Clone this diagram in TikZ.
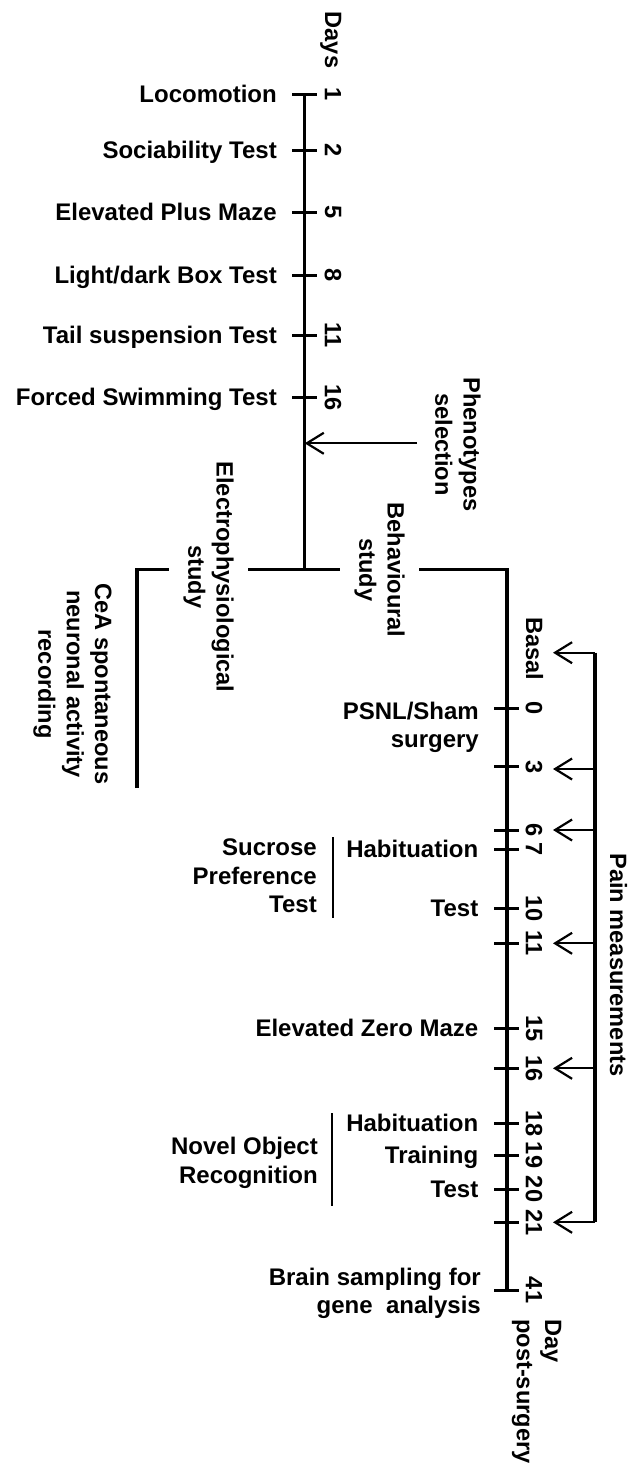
\documentclass[tikz,border=0pt]{standalone}
\usepackage{fontspec}
\setmainfont{Liberation Sans}
\usetikzlibrary{arrows.meta}
\begin{document}
\begin{tikzpicture}[x=1pt,y=-1pt,
  lbl/.style={font=\bfseries\fontsize{24}{28.3}\selectfont, inner sep=0pt},
  vlbl/.style={font=\bfseries\fontsize{23.6}{28.3}\selectfont, inner sep=0pt},
  hl/.style={lbl, anchor=base east},
  hlm/.style={lbl, anchor=north east, align=right},
  vl/.style={vlbl, rotate=-90},
  num/.style={vl, anchor=center},
  gapbox/.style={vl, align=center, fill=white, inner ysep=14.5pt},
  axis/.style={line width=3.2pt},
  tickl/.style={line width=3pt},
  brk/.style={line width=2.6pt},
  parrow/.style={line width=2.2pt, -{Straight Barb[length=17pt,width=21pt]}},
]
\fill[white] (0,0) rectangle (641,1478);
\useasboundingbox (0,0) rectangle (641,1478);

% ---------- top timeline ----------
\coordinate (top) at (304.7,94.3);
\coordinate (br) at (304.7,569.3);
\draw[axis] (top) -- (br);
\foreach \y in {94.3,150,212.3,275,335,397.3}
  \draw[tickl] (292.4,\y) -- (317,\y);

\node[vl, anchor=base] (days) at (325,40) {Days};
\node[num] (n1)  at (333,94.3)  {1};
\node[num] (n2)  at (333,150)   {2};
\node[num] (n5)  at (333,212.3) {5};
\node[num] (n8)  at (333,275)   {8};
\node[num] (n11) at (333,335)   {11};
\node[num] (n16) at (333,397.3) {16};

\node[hl] (loco) at (277,102.6) {Locomotion};
\node[hl] (soc)  at (277,158.3) {Sociability Test};
\node[hl] (epm)  at (277,220.6) {Elevated Plus Maze};
\node[hl] (ldb)  at (277,283.3) {Light/dark Box Test};
\node[hl] (tst)  at (277,343.3) {Tail suspension Test};
\node[hl] (fst)  at (277,405.6) {Forced Swimming Test};

% phenotype selection
\node[vl, align=center] (phen) at (458,444.5) {Phenotypes\\selection};
\coordinate (phA) at (417,443.3);
\draw[parrow] (phA) -- (phA -| top);

% ---------- branch ----------
\coordinate (lb) at (137,569.3);
\coordinate (lbe) at (137,788);
\coordinate (rb) at (507,569.3);
\coordinate (rbe) at (507,1290);
\draw[axis, line join=miter] (lbe) -- (lb) -- (rb) -- (rbe);

\node[gapbox] (elec) at (208.5,577) {Electrophysiological\\study};
\node[gapbox] (beh)  at (379.5,570) {Behavioural\\study};
\node[vl, align=center] (cea) at (72.5,684) {CeA spontaneous\\neuronal activity\\recording};

% ---------- bottom timeline ----------
\foreach \y in {708.3,766.7,830,849,908.3,943.3,1028.3,1068.3,1123.3,1155,1189,1222.3,1290}
  \draw[tickl] (494,\y) -- (519,\y);

\node[num] (basal) at (534.5,649) {Basal};
\node[num] (b0)  at (534,708.3)  {0};
\node[num] (b3)  at (534,766.7)  {3};
\node[num] (b6)  at (534,830)    {6};
\node[num] (b7)  at (534,849)    {7};
\node[num] (b10) at (534,908.3)  {10};
\node[num] (b11) at (534,943.3)  {11};
\node[num] (b15) at (534,1028.3) {15};
\node[num] (b16) at (534,1068.3) {16};
\node[num] (b18) at (534,1123.3) {18};
\node[num] (b19) at (534,1155)   {19};
\node[num] (b20) at (534,1189)   {20};
\node[num] (b21) at (534,1222.3) {21};
\node[num] (b41) at (534,1290)   {41};

\node[hlm] (psnl) at (479,701.4) {PSNL/Sham\\surgery};
\node[hl] (hab1) at (478.5,857.3)  {Habituation};
\node[hl] (spt)  at (478.5,916.6)  {Test};
\node[hlm] (suc) at (317,839) {Sucrose\\Preference\\Test};
\draw[brk] (333,837) -- (333,918);
\node[hl] (ezm)  at (478.5,1036.8) {Elevated Zero Maze};
\node[hl] (hab2) at (478.5,1131.8) {Habituation};
\node[hl] (trn)  at (478.5,1163.3) {Training};
\node[hl] (nort) at (478.5,1197.3) {Test};
\node[hlm] (nor) at (318,1137.2) {Novel Object\\Recognition};
\draw[brk] (332,1113) -- (332,1206);
\node[hlm] (brain) at (481,1267.7) {Brain sampling for\\gene\ \ analysis};

\node[vl, align=left, anchor=north west] (dps) at (561.5,1319) {Day\\post-surgery};

% ---------- pain measurements ----------
\coordinate (pt) at (595,652.7);
\coordinate (pb) at (595,1222.3);
\draw[axis] (pt) -- (pb);
\foreach \y in {652.7,769,830,943.3,1068.3,1222.3}
  \draw[parrow] (595,\y) -- (553,\y);
\node[num] (pain) at (618.5,965) {Pain measurements};
\end{tikzpicture}
\end{document}
